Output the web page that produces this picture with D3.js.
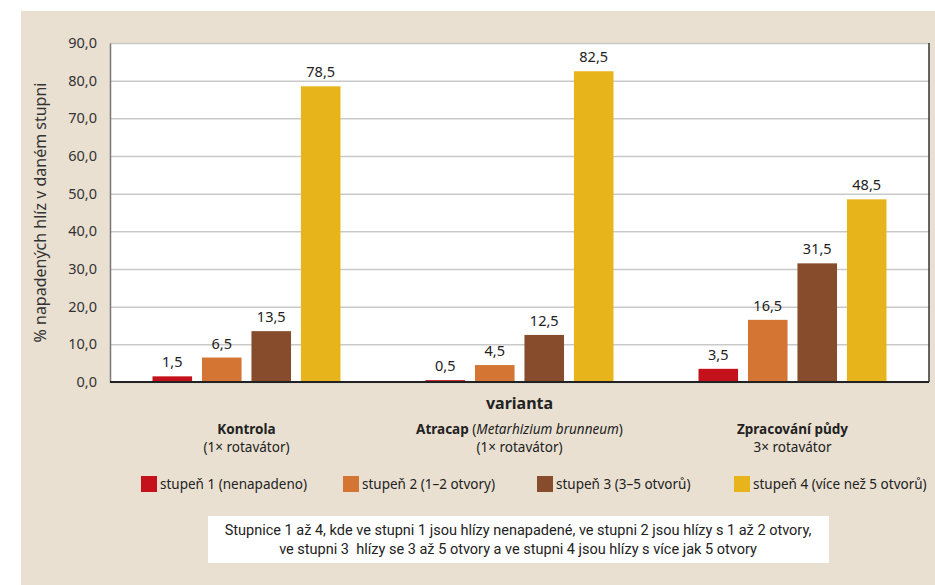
<!DOCTYPE html>
<html>
<head>
<meta charset="utf-8">
<script src="https://cdn.jsdelivr.net/npm/d3@7.9.0/dist/d3.min.js"></script>
<style>
  body { margin: 0; background: #fff; }
  svg { display: block; font-family: 'Noto Sans', sans-serif; }
</style>
</head>
<body>
<div id="chart"></div>
<script>
// DATA
const groups = ['Kontrola', 'Atracap', 'Zpracování půdy'];
const stages = ['stupeň 1 (nenapadeno)', 'stupeň 2 (1–2 otvory)', 'stupeň 3 (3–5 otvorů)', 'stupeň 4 (více než 5 otvorů)'];
const stage1 = [1.5, 0.5, 3.5];
const stage2 = [6.5, 4.5, 16.5];
const stage3 = [13.5, 12.5, 31.5];
const stage4 = [78.5, 82.5, 48.5];
const yTicks = [0, 10, 20, 30, 40, 50, 60, 70, 80, 90];
const colors = ['#c4111b', '#d57533', '#874c2c', '#e7b51b'];

const seriesValues = [stage1, stage2, stage3, stage4];
const rows = groups.map((g, i) => ({
  group: g,
  values: stages.map((s, j) => ({ stage: s, value: seriesValues[j][i] })),
}));

const width = 935;
const height = 585;

const margin = { top: 43, right: 6, bottom: 203, left: 110 };

const usableArea = {
  top: margin.top,
  right: width - margin.right,
  bottom: height - margin.bottom,
  left: margin.left,
};

const svg = d3
  .select('#chart')
  .append('svg')
  .attr('width', width)
  .attr('height', height);

// BACKGROUND
svg.append('rect')
  .attr('x', 21).attr('y', 11)
  .attr('width', width - 21).attr('height', height - 11)
  .attr('fill', '#e9e0d1');

svg.append('rect')
  .attr('x', usableArea.left).attr('y', usableArea.top)
  .attr('width', usableArea.right - usableArea.left)
  .attr('height', usableArea.bottom - usableArea.top)
  .attr('fill', '#fff');

// SCALES
const xScale = d3.scaleBand()
  .domain(groups)
  .range([usableArea.left, usableArea.right]);

const xInner = d3.scaleBand()
  .domain(stages)
  .range([42.5, xScale.bandwidth() - 42.5])
  .paddingInner(0.2);

const yScale = d3.scaleLinear()
  .domain([0, 90])
  .range([usableArea.bottom, usableArea.top]);

const fmt = (d) => d3.format('.1f')(d).replace('.', ',');

// GRIDLINES
svg.append('g')
  .attr('class', 'gridlines')
  .attr('transform', `translate(${usableArea.left},0)`)
  .call(d3.axisLeft(yScale).tickValues(yTicks).tickFormat('').tickSize(-(usableArea.right - usableArea.left)))
  .call((g) => g.select('.domain').remove())
  .call((g) => g.selectAll('line').attr('stroke', '#c9c9c9').attr('stroke-width', 1.5));

// Y AXIS
svg.append('g')
  .attr('transform', `translate(${usableArea.left},0)`)
  .call(d3.axisLeft(yScale).tickValues(yTicks).tickFormat(fmt).tickSize(0).tickPadding(13))
  .call((g) => g.select('.domain').attr('stroke', '#777').attr('stroke-width', 1.5))
  .call((g) => g.selectAll('text')
    .attr('font-family', "'Noto Sans', sans-serif")
    .attr('font-size', 14.5)
    .attr('fill', '#333'));

// right border
svg.append('line')
  .attr('x1', usableArea.right).attr('x2', usableArea.right)
  .attr('y1', usableArea.top).attr('y2', usableArea.bottom)
  .attr('stroke', '#333').attr('stroke-width', 1.5);

// BARS
const bars = svg.append('g')
  .selectAll('g')
  .data(rows)
  .join('g')
  .attr('transform', (d) => `translate(${xScale(d.group)},0)`);

bars.selectAll('rect')
  .data((d) => d.values)
  .join('rect')
  .attr('x', (d) => xInner(d.stage))
  .attr('y', (d) => yScale(d.value))
  .attr('width', xInner.bandwidth())
  .attr('height', (d) => yScale(0) - yScale(d.value))
  .attr('fill', (d, i) => colors[i]);

bars.selectAll('text')
  .data((d) => d.values)
  .join('text')
  .attr('x', (d) => xInner(d.stage) + xInner.bandwidth() / 2)
  .attr('y', (d) => yScale(d.value) - 9)
  .attr('text-anchor', 'middle')
  .attr('font-size', 14.5)
  .attr('fill', '#222')
  .text((d) => fmt(d.value));

// X AXIS LINE
svg.append('line')
  .attr('x1', usableArea.left).attr('x2', usableArea.right)
  .attr('y1', yScale(0)).attr('y2', yScale(0))
  .attr('stroke', '#222').attr('stroke-width', 2);

// AXIS TITLES
svg.append('text')
  .attr('x', (usableArea.left + usableArea.right) / 2)
  .attr('y', 409)
  .attr('text-anchor', 'middle')
  .attr('font-size', 16)
  .attr('font-weight', 'bold')
  .attr('fill', '#222')
  .text('varianta');

svg.append('text')
  .attr('transform', `translate(46,${(usableArea.top + usableArea.bottom) / 2}) rotate(-90)`)
  .attr('text-anchor', 'middle')
  .attr('font-size', 16)
  .attr('fill', '#333')
  .text('% napadených hlíz v daném stupni');

// CATEGORY LABELS
const catLabels = svg.append('g')
  .attr('font-size', 13.5)
  .attr('fill', '#222')
  .attr('text-anchor', 'middle');

const line1 = catLabels.selectAll('text.l1')
  .data(groups)
  .join('text')
  .attr('class', 'l1')
  .attr('x', (d) => xScale(d) + xScale.bandwidth() / 2)
  .attr('y', 434);

line1.filter((d, i) => i === 0)
  .append('tspan').attr('font-weight', 'bold').text('Kontrola');
const atr = line1.filter((d, i) => i === 1);
atr.append('tspan').attr('font-weight', 'bold').text('Atracap');
atr.append('tspan').text(' (');
atr.append('tspan').attr('font-style', 'italic').text('Metarhizium brunneum');
atr.append('tspan').text(')');
line1.filter((d, i) => i === 2)
  .append('tspan').attr('font-weight', 'bold').text('Zpracování půdy');

catLabels.selectAll('text.l2')
  .data(['(1× rotavátor)', '(1× rotavátor)', '3× rotavátor'])
  .join('text')
  .attr('class', 'l2')
  .attr('x', (d, i) => xScale(groups[i]) + xScale.bandwidth() / 2)
  .attr('y', 452)
  .text((d) => d);

// LEGEND
const legendX = [141, 343, 537, 734];
const legend = svg.append('g')
  .selectAll('g')
  .data(stages)
  .join('g')
  .attr('transform', (d, i) => `translate(${legendX[i]},476)`);

legend.append('rect')
  .attr('width', 16).attr('height', 16)
  .attr('fill', (d, i) => colors[i]);

legend.append('text')
  .attr('x', 19).attr('y', 13)
  .attr('font-size', 13.5)
  .attr('fill', '#222')
  .text((d) => d);

// NOTE BOX
svg.append('rect')
  .attr('x', 208).attr('y', 516)
  .attr('width', 621).attr('height', 47)
  .attr('fill', '#fff');

svg.append('text')
  .attr('text-anchor', 'middle')
  .attr('font-family', "'Liberation Sans Narrow', 'Roboto', sans-serif")
  .attr('font-size', 14.5)
  .attr('fill', '#222')
  .selectAll('tspan')
  .data([
    'Stupnice 1 až 4, kde ve stupni 1 jsou hlízy nenapadené, ve stupni 2 jsou hlízy s 1 až 2 otvory,',
    've stupni 3  hlízy se 3 až 5 otvory a ve stupni 4 jsou hlízy s více jak 5 otvory',
  ])
  .join('tspan')
  .attr('x', 518)
  .attr('y', (d, i) => 535 + i * 19)
  .style('white-space', 'pre')
  .text((d) => d);
</script>
</body>
</html>
